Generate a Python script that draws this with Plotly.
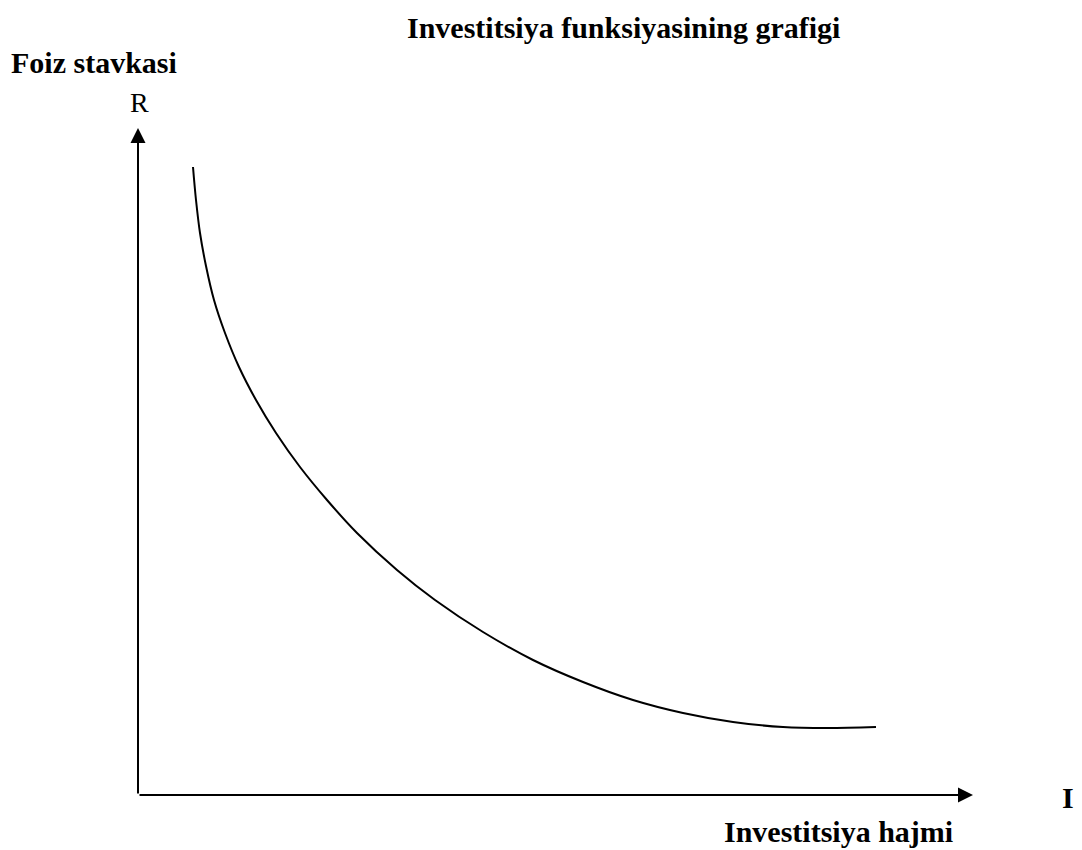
import plotly.graph_objects as go

# Curve data: investment volume (I) vs interest rate (R), arbitrary units
invest = [5.5, 5.8, 6.2, 6.8, 7.6, 8.7, 10.1, 11.8, 13.8, 16.2, 18.9, 21.9,
          25.9, 29.7, 34.5, 39.5, 44.5, 49.5, 54.5, 59.5, 64.5, 68.9, 73.8]
rate = [62.8, 59.5, 56.2, 52.9, 49.5, 46.2, 42.8, 39.5, 36.2, 32.8, 29.5, 26.2,
        22.5, 19.5, 16.3, 13.5, 11.3, 9.5, 8.2, 7.3, 6.8, 6.7, 6.8]

axis_x_end = 83.5
axis_y_end = 66.7

title_text = "Investitsiya funksiyasining grafigi"
y_title = "Foiz stavkasi"
y_symbol = "R"
x_symbol = "I"
x_title = "Investitsiya hajmi"

# page body has an 8px margin: size the figure to fit the window exactly
OFF = 8
W, H = 1082 - OFF, 850 - OFF
FONT = "Liberation Serif, Times New Roman, serif"

fig = go.Figure()
fig.add_trace(go.Scatter(x=invest, y=rate, mode="lines",
                         line=dict(color="black", width=2, shape="spline", smoothing=1.0),
                         hoverinfo="skip", showlegend=False))

# Axes with arrows
fig.add_annotation(x=0, y=axis_y_end, ax=0, ay=0, xref="x", yref="y", axref="x", ayref="y",
                   showarrow=True, arrowhead=2, arrowsize=1.5, arrowwidth=2, arrowcolor="black", text="")
fig.add_annotation(x=axis_x_end, y=0, ax=0, ay=0, xref="x", yref="y", axref="x", ayref="y",
                   showarrow=True, arrowhead=2, arrowsize=1.5, arrowwidth=2, arrowcolor="black", text="")

def label(text, px, py, size=30, bold=True, xanchor="center"):
    fig.add_annotation(x=(px - OFF) / W, y=1 - (py - OFF) / H, xref="paper", yref="paper",
                       text=f"<b>{text}</b>" if bold else text, showarrow=False,
                       xanchor=xanchor, yanchor="middle", borderpad=0,
                       font=dict(family=FONT, size=size, color="black"))

label(title_text, 623, 28)
label(y_title, 10, 63, xanchor="left")
label(y_symbol, 139, 102, size=28, bold=False)
label(x_symbol, 1068, 797)
label(x_title, 838, 831)

fig.update_layout(
    width=W, height=H,
    margin=dict(l=0, r=0, t=0, b=0),
    paper_bgcolor="white", plot_bgcolor="white",
    xaxis=dict(range=[-13.0, 94.4], visible=False, fixedrange=True),
    yaxis=dict(range=[-5.5, 78.7], visible=False, fixedrange=True),
)
fig.write_html("out.html")
